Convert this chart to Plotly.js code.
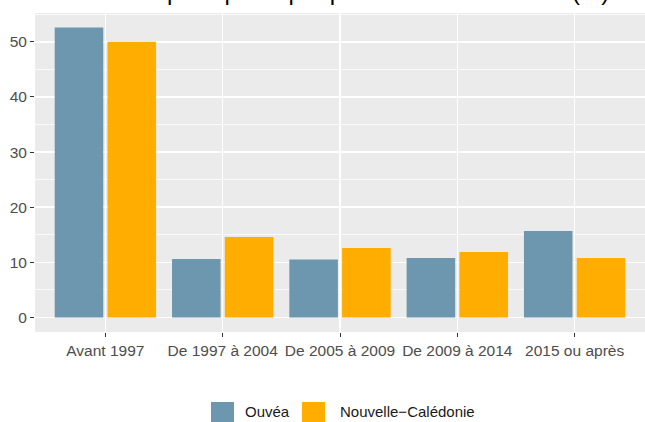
<!DOCTYPE html>
<html>
<head>
<meta charset="utf-8">
<script src="https://cdn.plot.ly/plotly-3.0.1.min.js"></script>
<style>html,body{margin:0;padding:0;background:#fff;}#chart{width:645px;height:422px;}</style>
</head>
<body>
<div id="chart"></div>
<script>
const categories = ["Avant 1997", "De 1997 à 2004", "De 2005 à 2009", "De 2009 à 2014", "2015 ou après"];
const seriesNames = ["Ouvéa", "Nouvelle\u2212Calédonie"];
const ouvea = [52.6, 10.6, 10.5, 10.8, 15.7];
const nouvelleCaledonie = [50.0, 14.6, 12.6, 11.9, 10.8];
const yTicks = [0, 10, 20, 30, 40, 50];
const titleText = "Résidences principales par période d'achèvement (%)";

const colors = ["#6D97AF", "#FFAD00"];
const L = 35, R = 0, T = 13, B = 90, W = 645, H = 422;
const pw = W - L - R, ph = H - T - B;
const px = x => (x - L) / pw;
const py = y => (H - B - y) / ph;

const traces = [ouvea, nouvelleCaledonie].map((vals, i) => ({
  type: 'bar', x: categories, y: vals, name: seriesNames[i],
  marker: {color: colors[i], line: {width: 0}}, showlegend: false, hoverinfo: 'none'
}));

const shapes = [], annotations = [];
const keyX = [211, 302], textX = [243, 338];
seriesNames.forEach((n, i) => {
  shapes.push({type: 'rect', xref: 'paper', yref: 'paper', x0: px(keyX[i]), x1: px(keyX[i] + 23),
    y0: py(402), y1: py(424), fillcolor: colors[i], line: {width: 0}});
  annotations.push({xref: 'paper', yref: 'paper', x: px(textX[i]), y: py(411.5), xanchor: 'left', yanchor: 'middle',
    text: n, showarrow: false, font: {family: 'Liberation Sans, Arial, sans-serif', size: 15, color: '#1A1A1A'}});
});
annotations.push({xref: 'paper', yref: 'paper', x: px(33), y: py(-8), xanchor: 'left', yanchor: 'middle',
  text: titleText, showarrow: false, font: {family: 'Liberation Sans, Arial, sans-serif', size: 24, color: '#000'}});

const layout = {
  width: W, height: H,
  margin: {l: L, r: R, t: T, b: B, pad: 0},
  paper_bgcolor: '#FFFFFF', plot_bgcolor: '#EBEBEB',
  barmode: 'group', bargap: 0.1, bargroupgap: 0.08,
  font: {family: 'Liberation Sans, Arial, sans-serif', size: 15.5, color: '#4D4D4D'},
  xaxis: {type: 'category', range: [-0.6, 4.6], showgrid: true, gridcolor: '#FFFFFF', gridwidth: 1.5,
    ticks: 'outside', ticklen: 4, tickcolor: '#333333', tickwidth: 1, zeroline: false, showline: false,
    tickfont: {size: 15.5, color: '#4D4D4D'}, fixedrange: true},
  yaxis: {range: [-2.63, 55.23], tickvals: yTicks, ticktext: yTicks.map(String), showgrid: true, gridcolor: '#FFFFFF', gridwidth: 1.5,
    minor: {tickvals: [5, 15, 25, 35, 45, 55], showgrid: true, gridcolor: '#FFFFFF', gridwidth: 0.75, ticks: ''},
    ticks: 'outside', ticklen: 4, tickcolor: '#333333', tickwidth: 1, zeroline: false, showline: false,
    tickfont: {size: 15.5, color: '#4D4D4D'}, fixedrange: true},
  shapes: shapes, annotations: annotations
};
Plotly.newPlot('chart', traces, layout, {staticPlot: true, displayModeBar: false});
</script>
</body>
</html>
